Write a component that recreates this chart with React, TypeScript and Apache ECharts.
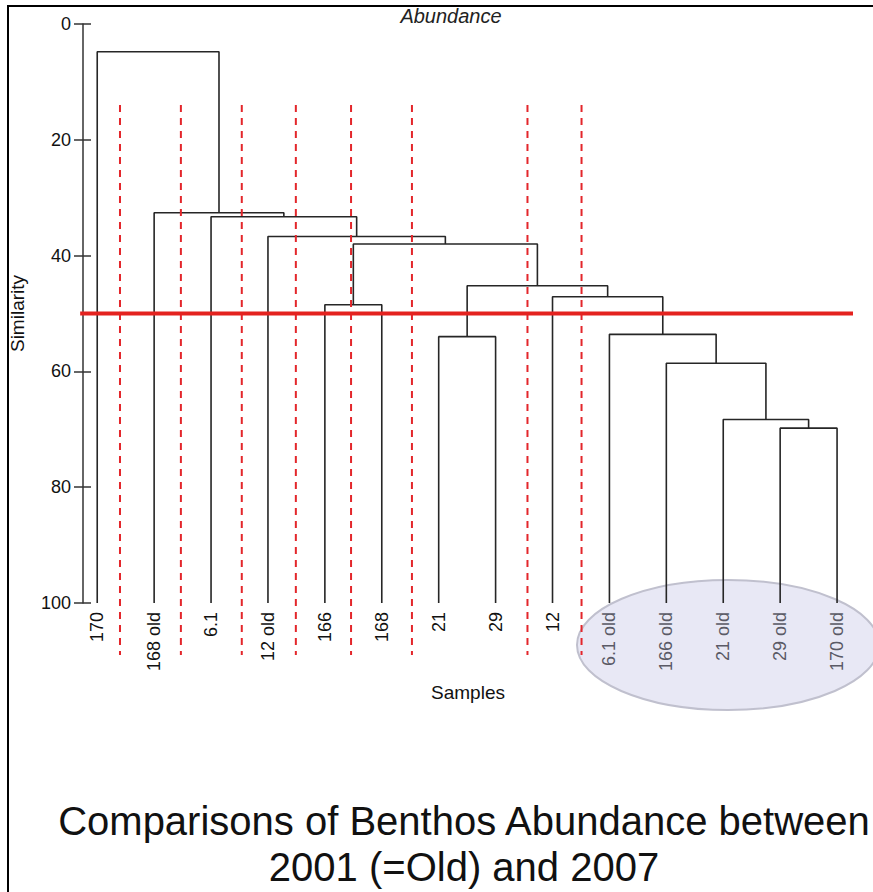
import React, { useEffect, useRef } from "react";
import * as echarts from "echarts";

const leafLabels = ["170", "168 old", "6.1", "12 old", "166", "168", "21", "29", "12", "6.1 old", "166 old", "21 old", "29 old", "170 old"];
// merges reference leaves (0..13) and earlier merged nodes (14 + k)
const merges: [number, number][] = [
  [12, 13], [11, 14], [10, 15], [9, 16], [6, 7], [4, 5], [8, 17],
  [18, 20], [19, 21], [3, 22], [2, 23], [1, 24], [0, 25],
];
const mergeHeights = [69.8, 68.3, 58.6, 53.6, 54.0, 48.5, 47.1, 45.2, 38.0, 36.7, 33.3, 32.6, 4.8];
const oldGroup = [9, 10, 11, 12, 13];
const cutLevel = 50;
const cutSpan = [-0.3, 13.28];
const guideX = [0.4, 1.47, 2.54, 3.49, 4.46, 5.53, 7.56, 8.51];
const guideRange = [14, 109];
const xMin = -0.25;
const xMax = 13.28;
const yMin = 0;
const yMax = 100;
const yStep = 20;

const FONT = "'Liberation Sans', Arial, Helvetica, sans-serif";

export default function App() {
  const ref = useRef<HTMLDivElement>(null);
  useEffect(() => {
    document.body.style.margin = "0";
    const chart = echarts.init(ref.current!, null, { renderer: "svg" });
    const pos: number[] = leafLabels.map((_, i) => i);
    const hts: number[] = leafLabels.map(() => yMax);
    merges.forEach(([a, b], k) => {
      pos.push((pos[a] + pos[b]) / 2);
      hts.push(mergeHeights[k]);
    });
    const treeSeries = merges.map(([a, b], k) => ({
      type: "line",
      data: [
        [pos[a], hts[a]],
        [pos[a], mergeHeights[k]],
        [pos[b], mergeHeights[k]],
        [pos[b], hts[b]],
      ],
      symbol: "none",
      silent: true,
      clip: false,
      z: 2,
      lineStyle: { color: "#262626", width: 1.6 },
    }));
    const guideSeries = guideX.map((x) => ({
      type: "line",
      data: [[x, guideRange[0]], [x, guideRange[1]]],
      symbol: "none",
      silent: true,
      clip: false,
      z: 3,
      lineStyle: { color: "#e3262b", width: 2, type: [7, 6] },
    }));
    const cutSeries = {
      type: "line",
      data: [[cutSpan[0], cutLevel], [cutSpan[1], cutLevel]],
      symbol: "none",
      silent: true,
      clip: false,
      z: 4,
      lineStyle: { color: "#e4221f", width: 4 },
    };
    chart.setOption({
      animation: false,
      textStyle: { fontFamily: FONT },
      grid: { left: 82, right: 20, top: 24, bottom: 289 },
      xAxis: {
        type: "value",
        min: xMin,
        max: xMax,
        name: "Samples",
        nameLocation: "middle",
        nameGap: 80,
        nameTextStyle: { fontSize: 19, color: "#111", fontFamily: FONT },
        axisLine: { show: false, onZero: false },
        axisTick: { show: false },
        splitLine: { show: false },
        axisLabel: {
          customValues: leafLabels.map((_, i) => i),
          rotate: 90,
          margin: 9,
          fontSize: 18,
          fontFamily: FONT,
          formatter: (v: number) => leafLabels[Math.round(v)] ?? "",
          color: (v: any) => (oldGroup.includes(Math.round(Number(v))) ? "#5a5a66" : "#111"),
        },
      },
      yAxis: [
        {
          type: "value",
          inverse: true,
          min: yMin,
          max: yMax,
          interval: yStep,
          name: "Similarity",
          nameLocation: "middle",
          nameRotate: 90,
          nameGap: 56,
          nameTextStyle: { fontSize: 19, color: "#111", fontFamily: FONT },
          axisLine: { show: true, onZero: false, lineStyle: { color: "#333", width: 1.5 } },
          axisTick: { show: true, length: 9, lineStyle: { color: "#333", width: 1.5 } },
          splitLine: { show: false },
          axisLabel: { fontSize: 18, margin: 12, color: "#111", fontFamily: FONT },
        },
        {
          type: "value",
          inverse: true,
          min: yMin,
          max: yMax,
          interval: yStep,
          position: "left",
          axisLine: { show: false, onZero: false },
          axisTick: { show: true, inside: true, length: 8, lineStyle: { color: "#333", width: 1.5 } },
          splitLine: { show: false },
          axisLabel: { show: false },
        },
      ],
      graphic: [
        {
          type: "ellipse",
          z: -10,
          silent: true,
          shape: { cx: 728, cy: 645, rx: 151, ry: 65 },
          style: { fill: "#e8e8f5", stroke: "#c0c0ce", lineWidth: 2 },
        },
        {
          type: "polyline",
          z: 10,
          silent: true,
          shape: { points: [[8, 892], [8, 6], [873, 6]] },
          style: { stroke: "#000", lineWidth: 2, fill: "none" },
        },
        {
          type: "text",
          x: 451,
          y: 16,
          silent: true,
          style: {
            text: "Abundance",
            font: `italic 20px ${FONT}`,
            fill: "#222",
            textAlign: "center",
            textVerticalAlign: "middle",
          },
        },
        {
          type: "text",
          x: 464,
          y: 821,
          silent: true,
          style: {
            text: "Comparisons of Benthos Abundance between",
            font: `40px ${FONT}`,
            fill: "#111",
            textAlign: "center",
            textVerticalAlign: "middle",
          },
        },
        {
          type: "text",
          x: 464,
          y: 867,
          silent: true,
          style: {
            text: "2001 (=Old) and 2007",
            font: `40px ${FONT}`,
            fill: "#111",
            textAlign: "center",
            textVerticalAlign: "middle",
          },
        },
      ],
      series: [...treeSeries, ...guideSeries, cutSeries],
    });
    return () => chart.dispose();
  }, []);
  return <div ref={ref} style={{ width: 873, height: 892 }} />;
}
